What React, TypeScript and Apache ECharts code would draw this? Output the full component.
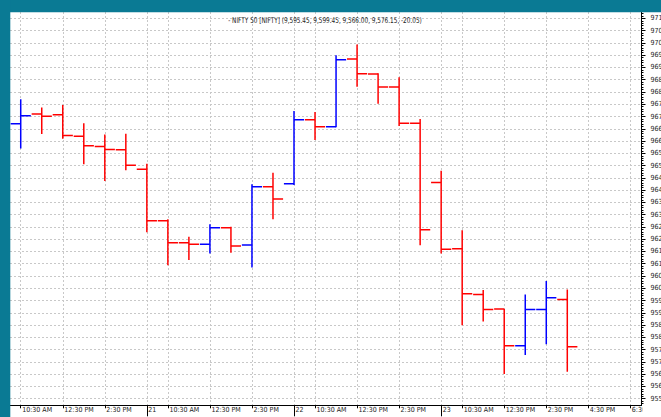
import React, { useEffect, useRef } from 'react';
import * as echarts from 'echarts';

// hourly slot index: day 20 09:30 = 0, each trading day has 7 hourly slots
const slots = [1, 2, 3, 4, 5, 6, 7, 8, 9, 10, 11, 12, 13, 14, 15, 16, 17, 18, 19, 20, 21, 22, 23, 24, 25, 26, 27];
const opens = [9667.05, 9671.0, 9670.7, 9662.0, 9657.8, 9656.5, 9648.5, 9627.5, 9618.6, 9617.9, 9624.7, 9617.6, 9641.4, 9642.6, 9668.7, 9665.8, 9693.4, 9687.3, 9682.0, 9667.3, 9643.1, 9616.1, 9597.5, 9591.5, 9576.6, 9591.3, 9595.45];
const highs = [9677.0, 9673.7, 9674.7, 9667.3, 9662.7, 9663.0, 9650.7, 9628.1, 9621.0, 9626.1, 9625.1, 9642.4, 9647.1, 9672.2, 9671.8, 9695.0, 9699.4, 9687.6, 9686.0, 9669.0, 9647.9, 9623.6, 9599.3, 9591.5, 9597.5, 9603.0, 9599.45];
const lows = [9657.0, 9662.9, 9660.9, 9650.5, 9643.7, 9648.1, 9622.8, 9609.4, 9611.5, 9614.2, 9614.5, 9608.5, 9628.1, 9642.1, 9660.4, 9665.6, 9682.1, 9675.2, 9666.1, 9617.5, 9614.2, 9584.9, 9586.5, 9565.1, 9572.8, 9577.2, 9566.0];
const closes = [9670.3, 9670.1, 9662.3, 9658.1, 9656.6, 9650.1, 9627.5, 9618.6, 9617.9, 9624.7, 9617.2, 9641.4, 9636.4, 9668.7, 9665.8, 9693.1, 9687.4, 9682.0, 9667.3, 9623.9, 9615.9, 9597.8, 9591.3, 9576.6, 9591.3, 9596.1, 9576.15];

const xLabelSlots = [1, 3, 5, 7, 8, 10, 12, 14, 15, 17, 19, 21, 22, 24, 26, 28, 30];
const xLabelTexts = ['10:30 AM', '12:30 PM', '2:30 PM', '21', '10:30 AM', '12:30 PM', '2:30 PM', '22', '10:30 AM', '12:30 PM', '2:30 PM', '23', '10:30 AM', '12:30 PM', '2:30 PM', '4:30 PM', '6:30 PM'];
const dayStartSlots = [7, 14, 21];

const yMajorStart = 9555;
const yMajorEnd = 9710;
const yMajorStep = 5;

const titleText = '- NIFTY 50 [NIFTY] (9,595.45, 9,599.45, 9,566.00, 9,576.15, -20.05)';

const FONT = '"Liberation Sans Narrow", "Arial Narrow", "DejaVu Sans Condensed", sans-serif';
const TEAL = '#0a7a94';

export default function App() {
  const ref = useRef<HTMLDivElement>(null);

  useEffect(() => {
    if (!ref.current) return;
    const chart = echarts.init(ref.current, undefined, { renderer: 'svg' });

    const yMajor: number[] = [];
    for (let v = yMajorStart; v <= yMajorEnd; v += yMajorStep) yMajor.push(v);
    const yMinor: number[] = [];
    for (let v = 9553; v <= 9712; v += 1) yMinor.push(v);

    const labelMap: Record<number, string> = {};
    xLabelSlots.forEach((s, i) => { labelMap[s] = xLabelTexts[i]; });

    const data = slots.map((s, i) => [s, opens[i], highs[i], lows[i], closes[i]]);

    const yMin = 9552.3;
    const yMax = 9712.6;
    const xMin = 0.49;
    const xMax = 30.53;

    chart.setOption({
      animation: false,
      backgroundColor: '#ffffff',
      textStyle: { fontFamily: FONT },
      grid: { left: 10, top: 12, right: 19.5, bottom: 11.7, containLabel: false, outerBoundsMode: 'none' },
      xAxis: [
        {
          type: 'value',
          min: xMin,
          max: xMax,
          position: 'bottom',
          axisLine: { show: true, onZero: false, lineStyle: { color: '#000', width: 1 } },
          axisTick: { show: true, customValues: xLabelSlots, length: 3, lineStyle: { color: '#000' } },
          axisLabel: {
            show: true,
            customValues: xLabelSlots,
            formatter: (v: number) => labelMap[Math.round(v)] ?? '',
            align: 'left',
            margin: 1.5,
            padding: [0, 0, 0, 1.5],
            fontSize: 7,
            fontFamily: FONT,
            color: '#222',
            showMinLabel: true,
            showMaxLabel: true,
            hideOverlap: false,
          },
          splitLine: { show: true, lineStyle: { color: '#c8c8c8', type: [2, 2], width: 1 } },
        },
        {
          type: 'value',
          min: xMin,
          max: xMax,
          position: 'bottom',
          axisLine: { show: false, onZero: false },
          axisTick: { show: true, customValues: dayStartSlots, length: 11, lineStyle: { color: '#000' } },
          axisLabel: { show: false },
          splitLine: { show: false },
        },
      ],
      yAxis: [
        {
          type: 'value',
          min: yMin,
          max: yMax,
          scale: true,
          position: 'right',
          axisLine: { show: true, onZero: false, lineStyle: { color: '#000', width: 1 } },
          axisTick: { show: true, customValues: yMajor, length: 4, lineStyle: { color: '#000' } },
          axisLabel: {
            show: true,
            customValues: yMajor,
            formatter: (v: number) => String(Math.round(v)),
            margin: 9,
            fontSize: 7,
            fontFamily: FONT,
            color: '#222',
            align: 'left',
          },
          splitLine: { show: true, lineStyle: { color: '#c8c8c8', type: [2, 2], width: 1 } },
        },
        {
          type: 'value',
          min: yMin,
          max: yMax,
          scale: true,
          position: 'right',
          axisLine: { show: false, onZero: false },
          axisTick: { show: true, customValues: yMinor, length: 2, lineStyle: { color: '#000' } },
          axisLabel: { show: false },
          splitLine: { show: false },
        },
      ],
      series: [
        {
          type: 'custom',
          xAxisIndex: 0,
          yAxisIndex: 0,
          data,
          encode: { x: 0, y: [1, 2, 3, 4] },
          clip: true,
          renderItem: (params: any, api: any) => {
            const s = api.value(0);
            const o = api.value(1);
            const h = api.value(2);
            const l = api.value(3);
            const c = api.value(4);
            const po = api.coord([s, o]);
            const ph = api.coord([s, h]);
            const pl = api.coord([s, l]);
            const pc = api.coord([s, c]);
            const half = api.size([1, 0])[0] * 0.48;
            const color = c >= o ? '#0000ff' : '#ff0000';
            const x = po[0];
            const st = { stroke: color, lineWidth: 1.5 };
            return {
              type: 'group',
              children: [
                { type: 'line', shape: { x1: x, y1: ph[1], x2: x, y2: pl[1] }, style: st },
                { type: 'line', shape: { x1: x - half, y1: po[1], x2: x, y2: po[1] }, style: st },
                { type: 'line', shape: { x1: x, y1: pc[1], x2: x + half, y2: pc[1] }, style: st },
              ],
            };
          },
        },
      ],
      graphic: [
        {
          type: 'text',
          x: 325,
          y: 20,
          z: 50,
          scaleX: 0.8,
          style: {
            text: titleText,
            textAlign: 'center',
            textVerticalAlign: 'middle',
            fontSize: 8,
            fontFamily: FONT,
            fill: '#222',
          },
        },
        {
          type: 'rect',
          z: 90,
          shape: { x: 642.5, y: 406, width: 20, height: 12 },
          style: { fill: '#ffffff' },
        },
        {
          type: 'rect',
          z: 100,
          shape: { x: 0, y: 0, width: 661, height: 12.3 },
          style: { fill: TEAL },
        },
        {
          type: 'rect',
          z: 100,
          shape: { x: 0, y: 0, width: 10.3, height: 417 },
          style: { fill: TEAL },
        },
      ],
    });

    return () => {
      chart.dispose();
    };
  }, []);

  return (
    <div style={{ position: 'fixed', left: 0, top: 0, width: 661, height: 417, overflow: 'hidden', background: '#fff' }}>
      <div ref={ref} style={{ width: 661, height: 417 }} />
    </div>
  );
}
